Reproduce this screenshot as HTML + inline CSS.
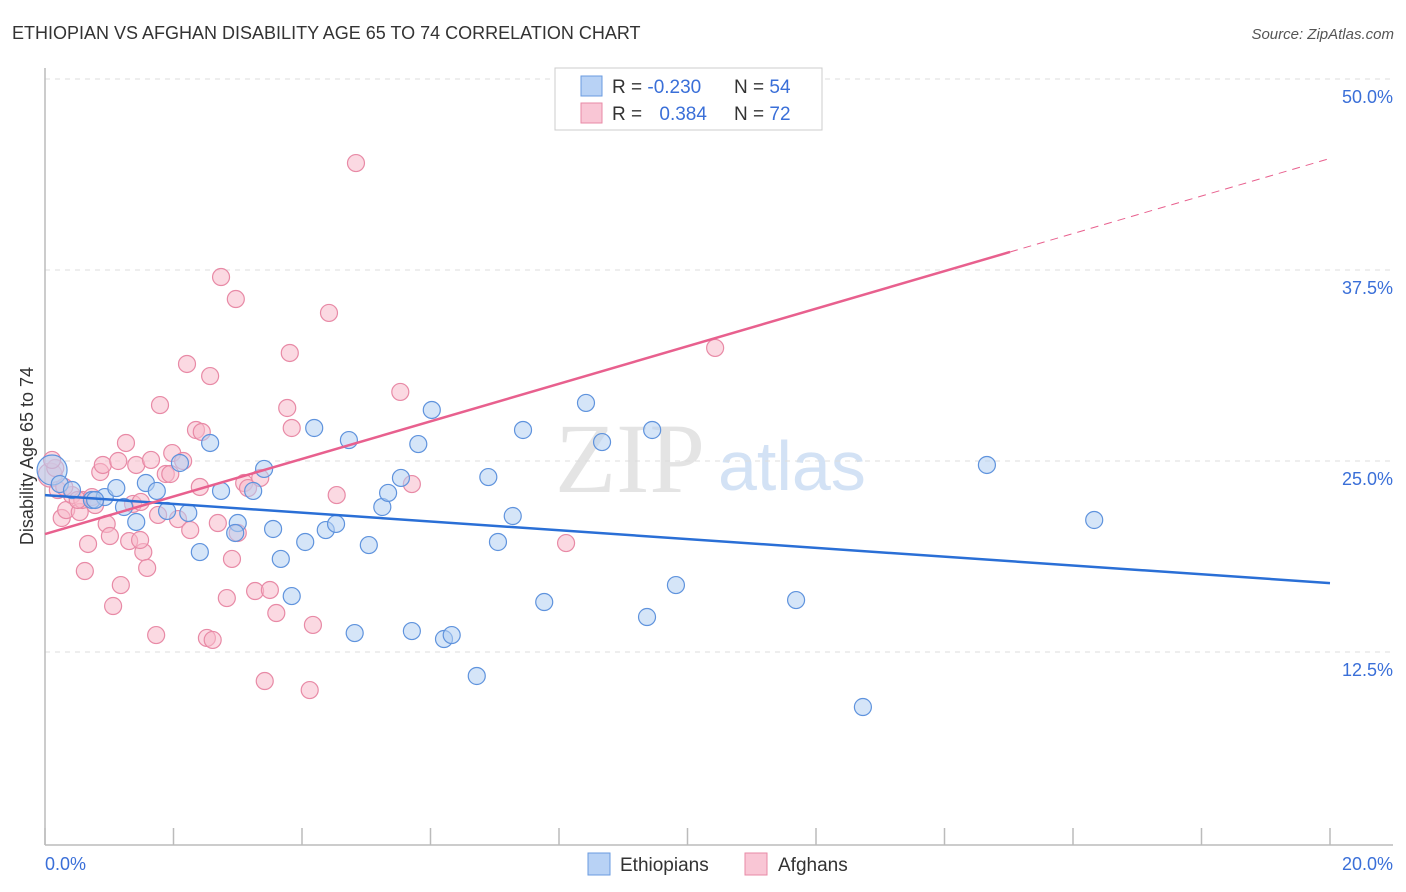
<!DOCTYPE html>
<html><head><meta charset="utf-8"><style>
body{margin:0;background:#fff;font-family:"Liberation Sans",sans-serif;}
#wrap{position:relative;width:1406px;height:892px;overflow:hidden;}
</style></head><body>
<div id="wrap">
<svg id="chart" width="1406" height="892">
<text x="12" y="39" font-size="18" fill="#333">ETHIOPIAN VS AFGHAN DISABILITY AGE 65 TO 74 CORRELATION CHART</text>
<text x="1394" y="39" font-size="15" fill="#555" font-style="italic" text-anchor="end">Source: ZipAtlas.com</text>
<text x="33" y="456" font-size="18" fill="#333" text-anchor="middle" transform="rotate(-90 33 456)">Disability Age 65 to 74</text>
<text x="555" y="492" font-size="100" fill="#e4e4e4" font-family="Liberation Serif, serif">ZIP</text>
<text x="718" y="490" font-size="70" fill="#d3e2f5">atlas</text>
<g id="grid"></g><g id="axes"></g><g id="pts"></g><g id="lines"></g>
<g>
<rect x="555" y="68" width="267" height="62" fill="#fff" stroke="#ccc"/>
<rect x="581" y="76" width="21" height="20" fill="#b8d2f5" stroke="#6a9be0"/>
<rect x="581" y="103" width="21" height="20" fill="#f9c6d5" stroke="#e88aa6"/>
<text x="612" y="93" font-size="19" fill="#333">R = <tspan fill="#3a6fd8">-0.230</tspan></text>
<text x="734" y="93" font-size="19" fill="#333">N = <tspan fill="#3a6fd8">54</tspan></text>
<text x="612" y="120" font-size="19" fill="#333">R = <tspan fill="#3a6fd8" dx="12">0.384</tspan></text>
<text x="734" y="120" font-size="19" fill="#333">N = <tspan fill="#3a6fd8">72</tspan></text>
</g>
<g>
<rect x="588" y="853" width="22" height="22" fill="#b8d2f5" stroke="#6a9be0"/>
<text x="620" y="871" font-size="19" fill="#333">Ethiopians</text>
<rect x="745" y="853" width="22" height="22" fill="#f9c6d5" stroke="#e88aa6"/>
<text x="778" y="871" font-size="19" fill="#333">Afghans</text>
</g>
</svg>
</div>
<script>
const xTicks=[0,2,4,6,8,10,12,14,16,18,20];
const yTicks=[12.5,25,37.5,50];
const yTickLabels=["12.5%","25.0%","37.5%","50.0%"];
const xEndLabels=["0.0%","20.0%"];
const ethX=[0.11,0.23,0.42,0.73,0.93,1.11,1.23,1.42,1.57,1.74,1.90,2.10,2.23,2.41,2.57,2.74,3.00,2.96,3.24,3.41,3.55,3.67,3.84,4.05,4.19,4.37,4.53,4.73,4.82,5.04,5.25,5.34,5.54,5.71,5.81,6.02,6.21,6.33,6.72,6.90,7.28,7.05,7.44,7.77,8.42,8.67,9.37,9.45,9.82,11.69,12.73,14.66,16.33,0.78];
const ethY=[24.41,23.49,23.10,22.45,22.64,23.23,21.99,21.01,23.56,23.04,21.73,24.87,21.60,19.04,26.18,23.04,20.94,20.29,23.04,24.48,20.55,18.59,16.16,19.70,27.16,20.48,20.88,26.37,13.74,19.50,21.99,22.91,23.89,13.87,26.11,28.34,13.35,13.61,10.93,23.95,21.40,19.70,27.03,15.77,28.80,26.24,14.79,27.03,16.88,15.90,8.90,24.74,21.14,22.45];
const afgX=[0.08,0.16,0.20,0.26,0.33,0.42,0.54,0.58,0.62,0.67,0.78,0.86,0.90,0.96,1.01,1.06,1.14,1.18,1.26,1.31,1.37,1.42,1.49,1.53,1.59,1.65,1.73,1.76,1.79,1.88,1.95,1.98,2.07,2.15,2.21,2.26,2.35,2.41,2.44,2.52,2.57,2.61,2.69,2.74,2.83,2.91,2.97,3.00,3.10,3.16,3.27,3.35,3.42,3.50,3.60,3.77,3.81,3.84,4.12,4.17,4.42,4.54,4.84,5.53,5.71,8.11,10.43,0.11,0.51,0.73,1.48,0.30];
const afgY=[24.08,24.54,23.10,21.27,21.79,22.77,21.66,22.45,17.80,19.57,22.12,24.28,24.74,20.88,20.09,15.51,25.00,16.88,26.18,19.76,22.19,24.74,22.32,19.04,18.00,25.07,13.61,21.47,28.66,24.15,24.15,25.52,21.20,25.00,31.35,20.48,27.03,23.30,26.90,13.42,30.56,13.29,20.94,37.04,16.03,18.59,35.60,20.29,23.56,23.23,16.49,23.89,10.60,16.56,15.05,28.47,32.07,27.16,10.01,14.27,34.69,22.77,44.50,29.52,23.49,19.63,32.40,25.07,22.45,22.64,19.83,23.3];
const ethTrend=[22.77,17.01]; // y at x=0 and x=20
const afgTrend=[20.22,44.80];
const afgSolidEnd=15.02;

const X=v=>45+v*64.25, Y=v=>79+(50-v)*15.28;
const NS="http://www.w3.org/2000/svg";
function mk(tag,attrs,parent){const e=document.createElementNS(NS,tag);for(const k in attrs)e.setAttribute(k,attrs[k]);parent.appendChild(e);return e;}
const grid=document.getElementById('grid'),axes=document.getElementById('axes'),pts=document.getElementById('pts'),lines=document.getElementById('lines');
yTicks.forEach((t,i)=>{
  const g=mk('line',{x1:45,x2:1393,y1:Y(t),y2:Y(t),stroke:'#ddd','stroke-dasharray':'5,5'},grid);
  
  
  const l=mk('text',{x:1393,y:Y(t)+24,'font-size':18,fill:'#3a6fd8','text-anchor':'end'},axes);
  l.textContent=yTickLabels[i];
  
  
});
const ya=mk('line',{x1:45,x2:45,y1:68,y2:845,stroke:'#bbb','stroke-width':1.5},axes);


const xa=mk('line',{x1:45,x2:1393,y1:845,y2:845,stroke:'#bbb','stroke-width':1.5},axes);


xTicks.forEach(t=>{
  const tk=mk('line',{x1:X(t),x2:X(t),y1:828,y2:845,stroke:'#bbb','stroke-width':1.5},axes);
  
  
});
[[0,'start',45],[20,'end',1393]].forEach((d,i)=>{
  const l=mk('text',{x:d[2],y:870,'font-size':18,fill:'#3a6fd8','text-anchor':d[1]},axes);
  l.textContent=xEndLabels[i];
  
  
});
function dot(x,y,r,fill,stroke,name){
  const c=mk('circle',{cx:X(x),cy:Y(y),r:r,fill:fill,'fill-opacity':0.55,stroke:stroke,'stroke-width':1.2},pts);
  
  
}
afgX.forEach((x,i)=>dot(x,afgY[i],i==0?12:8.5,'#f7b9cb','#e88aa6','afghan-point'));
ethX.forEach((x,i)=>dot(x,ethY[i],i==0?15:8.5,'#b3cff3','#5f93dd','ethiopian-point'));
const bl=mk('line',{x1:X(0),y1:Y(ethTrend[0]),x2:X(20),y2:Y(ethTrend[1]),stroke:'#2a6fd6','stroke-width':2.5},lines);


const ym=afgTrend[0]+(afgTrend[1]-afgTrend[0])*afgSolidEnd/20;
const pl=mk('line',{x1:X(0),y1:Y(afgTrend[0]),x2:X(afgSolidEnd),y2:Y(ym),stroke:'#e8608e','stroke-width':2.5},lines);


const pd=mk('line',{x1:X(afgSolidEnd),y1:Y(ym),x2:X(20),y2:Y(afgTrend[1]),stroke:'#e8608e','stroke-width':1,'stroke-dasharray':'8,6'},lines);


</script>
</body></html>
